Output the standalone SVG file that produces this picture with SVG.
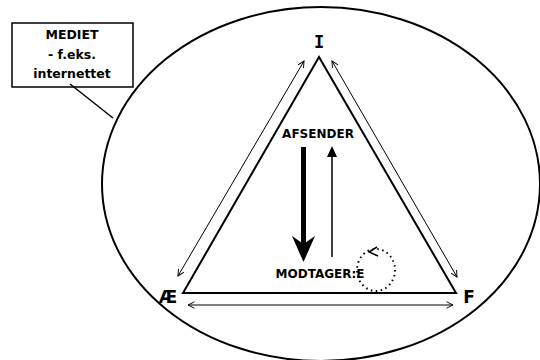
<svg xmlns="http://www.w3.org/2000/svg" width="540" height="360" viewBox="0 0 540 360">
<defs>
<marker id="open" viewBox="0 0 10 10" refX="9" refY="5" markerWidth="8" markerHeight="8" markerUnits="userSpaceOnUse" orient="auto-start-reverse">
<path d="M1,1 L9,5 L1,9" fill="none" stroke="#000" stroke-width="1.2"/>
</marker>
</defs>
<style>
.ln{stroke:#000;fill:none}
.t{font-family:"DejaVu Sans",Verdana,sans-serif;font-weight:bold;fill:#000}
</style>
<rect width="540" height="360" fill="#fff"/>
<ellipse id="medium" cx="321" cy="184" rx="219" ry="177" class="ln" stroke-width="2"/>
<g id="box">
<rect x="12" y="23" width="121" height="64" fill="#fff" stroke="#000" stroke-width="1.5"/>
<text class="t" x="72" y="39" font-size="12.5" text-anchor="middle">MEDIET</text>
<text class="t" x="72" y="59" font-size="12.5" text-anchor="middle">- f.eks.</text>
<text class="t" x="72" y="78" font-size="12.5" text-anchor="middle">internettet</text>
</g>
<g id="connectors">
<line x1="70" y1="84" x2="113" y2="118" class="ln" stroke-width="1.5"/>
<polygon points="319,57 183,293 456,293" class="ln" stroke-width="2"/>
<line x1="178" y1="276" x2="304" y2="61" class="ln" stroke-width="1" marker-start="url(#open)" marker-end="url(#open)"/>
<line x1="332" y1="61" x2="457" y2="277" class="ln" stroke-width="1" marker-start="url(#open)" marker-end="url(#open)"/>
<line x1="188" y1="305" x2="453" y2="305" class="ln" stroke-width="1" marker-start="url(#open)" marker-end="url(#open)"/>
<line x1="303.5" y1="147" x2="303.5" y2="245" class="ln" stroke-width="5"/>
<path d="M292,236 L303.5,262 L315,236 L303.5,244 Z" fill="#000"/>
<line x1="332" y1="257" x2="332" y2="156" class="ln" stroke-width="1.5"/>
<path d="M327,157 L332,146 L337,157 Z" fill="#000"/>
<ellipse cx="376" cy="270" rx="19" ry="21" class="ln" stroke-width="2" stroke-dasharray="1.5,3.5"/>
<path d="M377,247 L369,252 L378,256" class="ln" stroke-width="1.5"/>
</g>
<g id="I"><text x="319" y="48" font-family="'DejaVu Sans Mono',monospace" font-weight="bold" font-size="17" text-anchor="middle">I</text></g>
<g id="AE"><text class="t" x="168" y="303" font-size="17" text-anchor="middle">Æ</text></g>
<g id="F"><text class="t" x="469" y="303" font-size="17" text-anchor="middle">F</text></g>
<g id="afsender"><text class="t" x="318" y="138" font-size="12" text-anchor="middle">AFSENDER</text></g>
<g id="modtager"><text class="t" x="320" y="278" font-size="12" text-anchor="middle">MODTAGER:E</text></g>
</svg>
